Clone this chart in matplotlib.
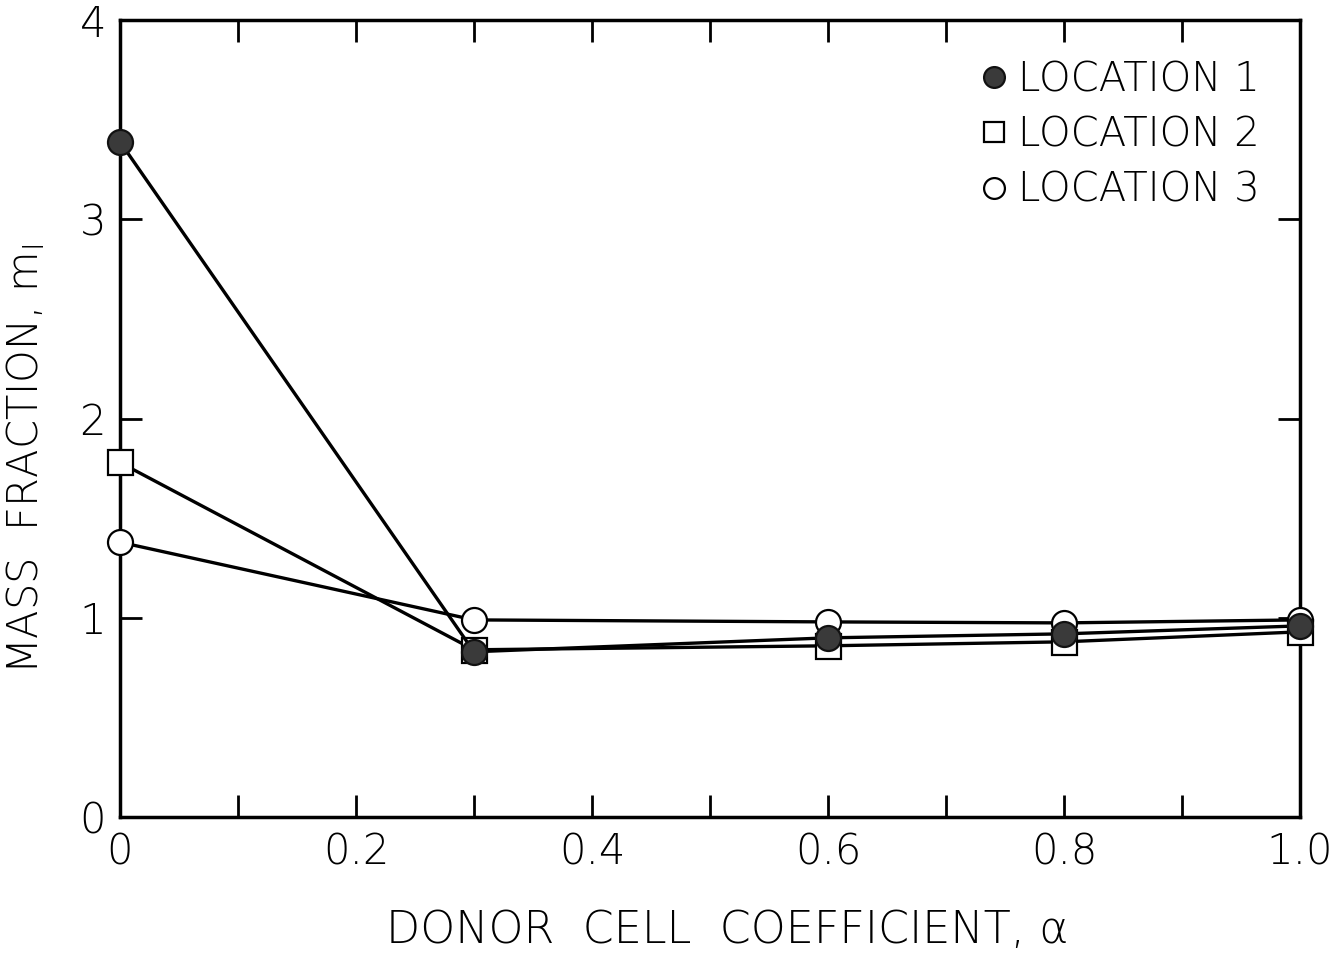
import matplotlib
matplotlib.use("Agg")
import matplotlib.pyplot as plt
from matplotlib.ticker import MultipleLocator

plt.rcParams["font.family"] = ["DejaVu Sans"]
plt.rcParams["font.weight"] = "light"
plt.rcParams["axes.labelweight"] = "light"
plt.rcParams["mathtext.fontset"] = "dejavusans"

alpha = [0.0, 0.3, 0.6, 0.8, 1.0]
loc1 = [3.39, 0.83, 0.90, 0.92, 0.96]
loc2 = [1.78, 0.84, 0.86, 0.88, 0.93]
loc3 = [1.38, 0.99, 0.98, 0.975, 0.99]

x_ticks = [0.0, 0.2, 0.4, 0.6, 0.8, 1.0]
x_labels = ["0", "0.2", "0.4", "0.6", "0.8", "1.0"]
y_ticks = [0, 1, 2, 3, 4]

fig = plt.figure(figsize=(13.32, 9.58), dpi=100)
ax = fig.add_axes([0.09, 0.147, 0.886, 0.832])

lw = 2.4
style = dict(color="black", lw=lw, ms=18, mew=1.6, clip_on=False)
ax.plot(alpha, loc1, "-o", mfc="#3a3a3a", mec="#111111", zorder=5, label="LOCATION 1", **style)
ax.plot(alpha, loc2, "-s", mfc="white", mec="black", zorder=4, label="LOCATION 2", **style)
ax.plot(alpha, loc3, "-o", mfc="white", mec="black", zorder=3, label="LOCATION 3", **style)

ax.set_xlim(0, 1.0)
ax.set_ylim(0, 4)
ax.set_xticks(x_ticks)
ax.set_xticklabels(x_labels)
ax.xaxis.set_minor_locator(MultipleLocator(0.1))
ax.set_yticks(y_ticks)

ax.tick_params(which="both", direction="in", top=True, right=True, width=2)
ax.tick_params(which="major", length=16, labelsize=30, pad=10)
ax.tick_params(which="minor", length=16)
for s in ax.spines.values():
    s.set_linewidth(2.5)

ax.set_xlabel("DONOR  CELL  COEFFICIENT, \u03b1", fontsize=32, labelpad=24)
ax.set_ylabel("MASS  FRACTION, m$_{\\mathrm{I}}$", fontsize=30, labelpad=22)
ax.xaxis.set_label_coords(0.515, -0.115)
ax.yaxis.set_label_coords(-0.062, 0.45)

leg = ax.legend(loc="upper right", frameon=False, fontsize=29, handlelength=0.6,
                handletextpad=0.3, labelspacing=0.4, borderaxespad=0.6)
for h in leg.legend_handles:
    h.set_linestyle("none")
    h.set_markersize(15)

fig.savefig("out.png", dpi=100)
